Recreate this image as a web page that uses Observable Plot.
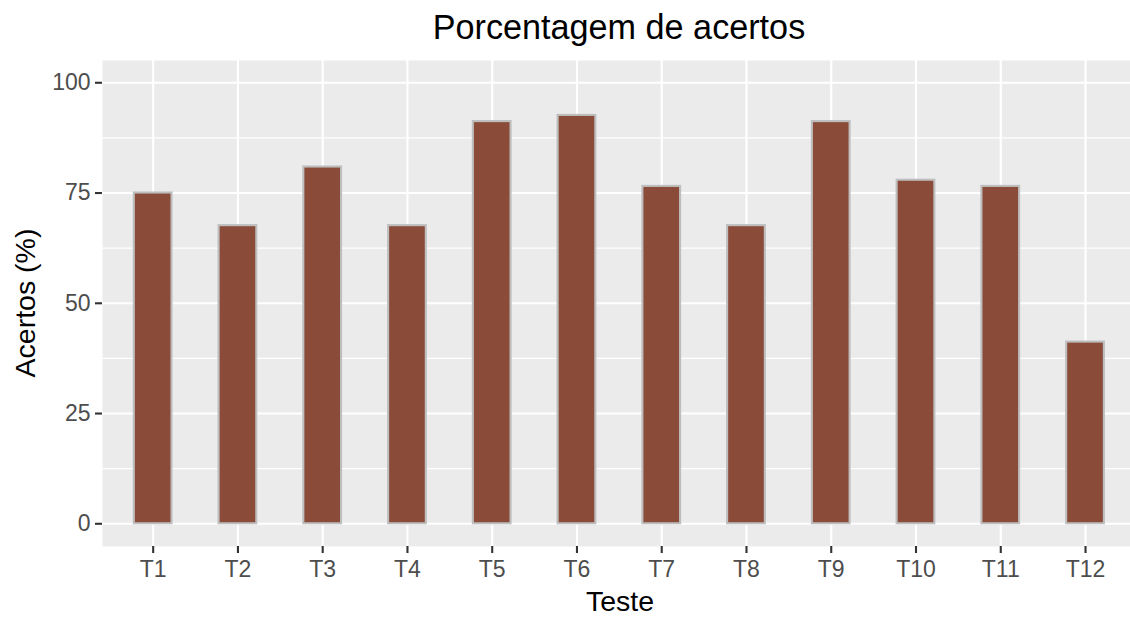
<!DOCTYPE html>
<html>
<head>
<meta charset="utf-8">
<script src="https://cdn.jsdelivr.net/npm/d3@7"></script>
<script src="https://cdn.jsdelivr.net/npm/@observablehq/plot@0.6"></script>
<style>
  html, body { margin: 0; padding: 0; background: #fff; }
  #chart { width: 1130px; height: 618px; overflow: hidden; }
</style>
</head>
<body>
<div id="chart"></div>
<script>
// Data
const tests = ["T1","T2","T3","T4","T5","T6","T7","T8","T9","T10","T11","T12"];
const accuracy = [75.0, 67.6, 80.9, 67.6, 91.2, 92.6, 76.5, 67.6, 91.2, 77.9, 76.5, 41.2];
const yTicks = [0, 25, 50, 75, 100];
const yMinor = [12.5, 37.5, 62.5, 87.5];
const titleText = "Porcentagem de acertos";
const xLabel = "Teste";
const yLabel = "Acertos (%)";

const data = tests.map((t, i) => ({test: t, value: accuracy[i]}));

const W = 1130, H = 618;
const font = "'Liberation Sans', Arial, Helvetica, sans-serif";

const plot = Plot.plot({
  width: W,
  height: H,
  marginLeft: 102,
  marginRight: 0,
  marginTop: 60,
  marginBottom: 72,
  style: {fontFamily: font, fontSize: "23px", background: "#fff", color: "#4D4D4D", overflow: "hidden"},
  x: {type: "band", domain: tests, range: [110.3, 1127.4], paddingInner: 0.555, paddingOuter: 0.2775, round: false},
  y: {domain: [-5.15, 105.05]},
  marks: [
    Plot.frame({fill: "#EBEBEB", stroke: null}),
    Plot.gridY(yMinor, {stroke: "#fff", strokeOpacity: 1, strokeWidth: 1.1}),
    Plot.gridY(yTicks, {stroke: "#fff", strokeOpacity: 1, strokeWidth: 2.1}),
    Plot.gridX(tests, {stroke: "#fff", strokeOpacity: 1, strokeWidth: 2.1}),
    Plot.barY(data, {x: "test", y: "value", fill: "#8A4B39", stroke: "#BEBEBE", strokeWidth: 2.1}),
    Plot.axisY(yTicks, {tickSize: 7, tickPadding: 5, stroke: "#333333", strokeWidth: 2.1, fill: "#4D4D4D", label: null}),
    Plot.axisX(tests, {tickSize: 7, tickPadding: 7, stroke: "#333333", strokeWidth: 2.1, fill: "#4D4D4D", label: null})
  ]
});

const svg = d3.select(plot);
svg.append("text")
  .attr("x", 619).attr("y", 39)
  .attr("text-anchor", "middle")
  .attr("font-family", font).attr("font-size", "34.2px").attr("fill", "#000")
  .text(titleText);
svg.append("text")
  .attr("x", 620).attr("y", 611)
  .attr("text-anchor", "middle")
  .attr("font-family", font).attr("font-size", "28.5px").attr("fill", "#000")
  .text(xLabel);
svg.append("text")
  .attr("transform", "translate(35,303) rotate(-90)")
  .attr("text-anchor", "middle")
  .attr("font-family", font).attr("font-size", "28.5px").attr("fill", "#000")
  .text(yLabel);

document.getElementById("chart").appendChild(plot);
</script>
</body>
</html>
